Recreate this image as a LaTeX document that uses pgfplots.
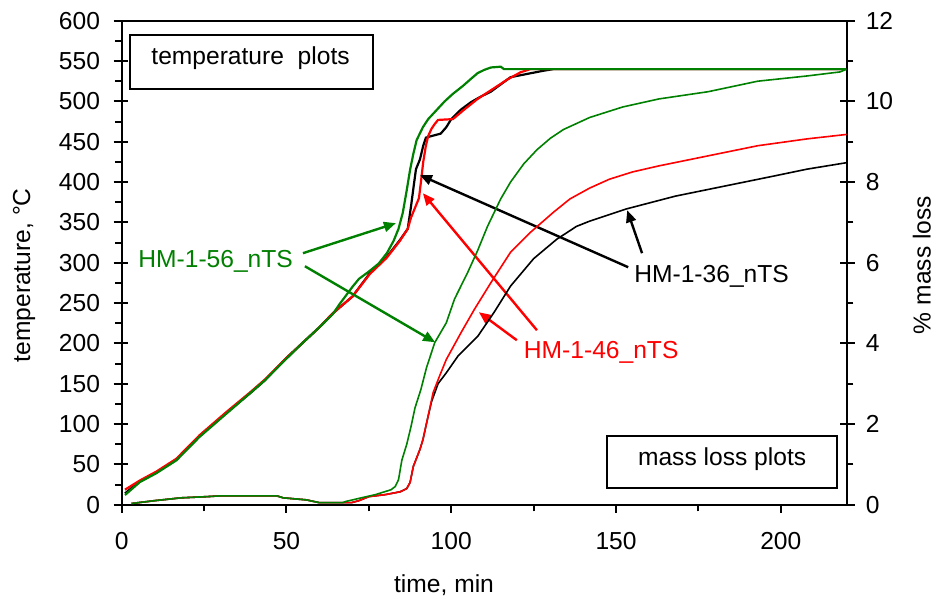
\documentclass[border=0pt]{standalone}
\usepackage{fontspec}
\setmainfont{Liberation Sans}
\usepackage{pgfplots}
\pgfplotsset{compat=1.18}
\usetikzlibrary{arrows.meta}
\definecolor{dgreen}{RGB}{0,128,0}
\begin{document}
\begin{tikzpicture}
\path[use as bounding box] (-60.85pt,-46.75pt) rectangle (407.15pt,252.35pt);
\pgfplotsset{every axis/.append style={font=\fontsize{12.3}{14}\selectfont}}
\begin{axis}[
  scale only axis, width=362.5pt, height=242pt,
  xmin=0, xmax=220, ymin=0, ymax=600,
  xtick={0,50,...,200}, minor x tick num=1,
  ytick={0,50,...,600}, minor y tick num=1,
  xtick pos=bottom, ytick pos=left,
  tick align=outside, major tick length=4pt, minor tick length=3.3pt,
  every tick/.style={black, line width=1pt},
  axis line style={line width=1pt},
  extra y ticks={0,50,100,150,200,250,300,350,400,450,500,550,600},
  extra y tick labels={},
  extra y tick style={tick align=inside, major tick length=3.3pt},
  /pgf/number format/assume math mode=true,
  xticklabel style={yshift=-6.5pt},
  yticklabel style={xshift=-3.3pt},
  xlabel={time, min},
  xlabel style={at={(axis description cs:0.4446,-0.1663)}, anchor=center},
  ylabel={temperature, °C},
  ylabel style={at={(axis description cs:-0.1348,0.474)}, anchor=center, rotate=0},
]
% temperature curves
\addplot[black, line width=1.1pt] coordinates {
(1,14) (5.5,29) (10.5,40) (16.6,56) (23.6,85) (31.8,114) (38.9,138) (43.4,154)
(50,182) (55,201) (60,220) (64,237) (70,258) (75.3,287) (80.4,307) (84.4,328) (86.8,342)
(87.8,370) (88.6,395) (89.3,416) (90.5,428) (91.5,445) (92.3,455) (94,457) (96.8,460)
(98.5,468) (100,478) (103,490) (106,499) (109,506) (112,512) (115,521) (118,530)
(123,534) (128,538) (131,540) (220,540)};
\addplot[red, line width=1.1pt] coordinates {
(1,18.6) (5.5,30) (10.5,41) (16.6,57) (23.6,86) (31.8,115) (38.9,139) (43.4,155)
(50,182) (55,201) (60,220) (64,237) (70,258) (75.3,286) (80.4,306) (84.4,327) (86.8,342)
(87.8,356) (89,368) (90.2,380) (90.8,400) (91.5,425) (92.3,445) (93,457) (94,466)
(95,472) (96,477) (100.5,478) (104,490) (108,503) (111,511) (114,519) (117,527)
(121,536) (124,540) (220,540)};
\addplot[dgreen, line width=1.1pt] coordinates {
(1,12) (5.5,28) (10.5,39) (16.6,55) (23.6,84) (31.8,113) (38.9,138) (43.4,154)
(50,181) (55,201) (60,220) (64,236) (66,248) (70,270) (72,280) (75,289) (78,299)
(80.5,312) (82.5,327) (84,342) (85.3,362) (86.5,390) (87.5,415) (88.5,435) (89.5,452)
(91.4,468) (93,478) (95.5,489) (98,500) (100.4,509) (103.5,519) (106,528) (108,535)
(110,539) (112,542) (115,543) (116,540) (220,540)};
% boxes
\draw[line width=1pt] (axis cs:2.5,515) rectangle (axis cs:76.3,582);
\node[anchor=base] at (axis cs:39.1,546) {temperature\ \ plots};
\draw[line width=1pt] (axis cs:147.3,20.5) rectangle (axis cs:217.1,84.9);
\node[anchor=base] at (axis cs:182.2,48.1) {mass loss plots};
% labels and arrows
\node[anchor=base, text=dgreen] at (axis cs:28.5,294.4) {HM-1-56\_nTS};
\node[anchor=base, text=black] at (axis cs:179.0,275.8) {HM-1-36\_nTS};
\node[anchor=base, text=red] at (axis cs:145.5,181.6) {HM-1-46\_nTS};
\draw[dgreen, line width=1.2pt, -{Triangle[length=6pt,width=5pt]}] (axis cs:55.0,311.8) -- (axis cs:83.2,349);
\draw[dgreen, line width=1.2pt, -{Triangle[length=6pt,width=5pt]}] (axis cs:55.6,295.6) -- (axis cs:95.1,201.4);
\draw[black, line width=1.2pt, -{Triangle[length=6pt,width=5pt]}] (axis cs:153.7,294.4) -- (axis cs:90.5,408.5);
\draw[black, line width=1.2pt, -{Triangle[length=6pt,width=5pt]}] (axis cs:157.9,311.8) -- (axis cs:153.4,365);
\draw[red, line width=1.2pt, -{Triangle[length=6pt,width=5pt]}] (axis cs:126.0,216.3) -- (axis cs:91.4,386.1);
\draw[red, line width=1.2pt, -{Triangle[length=6pt,width=5pt]}] (axis cs:119.9,203.9) -- (axis cs:108.4,238.6);
\end{axis}
\begin{axis}[
  scale only axis, width=362.5pt, height=242pt,
  xmin=0, xmax=220, ymin=0, ymax=12,
  axis x line=none, axis y line*=right,
  ytick={0,2,...,12}, minor y tick num=1,
  tick align=outside, major tick length=4pt, minor tick length=3.3pt,
  every tick/.style={black, line width=1pt},
  axis line style={line width=1pt},
  extra y ticks={0,2,4,6,8,10,12},
  extra y tick labels={},
  extra y tick style={tick align=inside, major tick length=3.3pt},
  /pgf/number format/assume math mode=true,
  yticklabel style={xshift=2pt},
  ylabel={\% mass loss},
  ylabel style={at={(axis description cs:1.1035,0.495)}, anchor=center, rotate=0, inner sep=0pt},
]
\addplot[black, line width=0.8pt] coordinates {
(3,0.03) (10,0.1) (18,0.17) (26,0.2) (30,0.22) (47,0.22) (49,0.17) (56,0.12) (60,0.05) (67,0.05)
(69.7,0.05) (72,0.1) (75,0.2) (80,0.25) (84.5,0.32) (86.5,0.4) (87.5,0.55) (88.5,0.95)
(90.5,1.37) (91.4,1.61) (93,2.2) (94,2.55) (96,3.0) (98.5,3.27) (102,3.68) (108,4.17)
(113,4.77) (118,5.42) (125,6.1) (132,6.58) (138,6.9) (142,7.03) (153,7.33) (168,7.65)
(183,7.9) (198,8.15) (208,8.32) (220,8.48)};
\addplot[red, line width=0.8pt] coordinates {
(3,0.03) (10,0.1) (18,0.17) (26,0.2) (30,0.22) (47,0.22) (49,0.17) (56,0.12) (60,0.05) (67,0.05)
(69.7,0.05) (72,0.1) (75,0.2) (80,0.25) (84.5,0.32) (86.5,0.4) (87.5,0.55) (88.5,0.95)
(90.5,1.37) (91.4,1.61) (93,2.2) (94.5,2.78) (96.5,3.2) (98.5,3.6) (103,4.27) (107,4.84)
(112,5.5) (118,6.26) (124,6.75) (131,7.25) (136,7.58) (142,7.85) (148,8.07) (155,8.25)
(163,8.4) (178,8.65) (193,8.9) (208,9.07) (220,9.18)};
\addplot[dgreen, line width=0.8pt] coordinates {
(3,0.03) (10,0.1) (18,0.17) (26,0.2) (30,0.22) (47,0.22) (49,0.17) (56,0.12) (60,0.05) (67,0.05)
(68,0.08) (72.7,0.17) (77,0.25) (81.7,0.37) (83,0.45) (84,0.62) (85,1.1) (86.5,1.5)
(87.8,1.94) (89,2.4) (90.8,2.86) (92.5,3.4) (95,4.02) (98.5,4.51) (101,5.1) (105,5.76)
(108,6.3) (111,6.9) (115,7.58) (118,8.0) (122,8.45) (126,8.8) (130,9.08) (134,9.3)
(142,9.6) (152,9.86) (163,10.06) (178,10.24) (193,10.5) (208,10.63) (218,10.73) (220,10.8)};
\end{axis}
\end{tikzpicture}
\end{document}
